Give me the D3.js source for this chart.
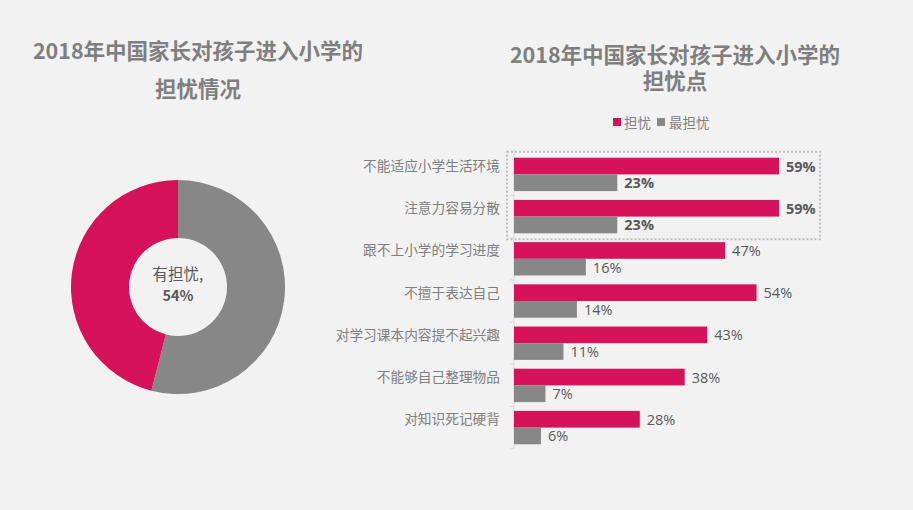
<!DOCTYPE html>
<html><head><meta charset="utf-8">
<script src="https://cdn.jsdelivr.net/npm/d3@7"></script>
<style>
html,body{margin:0;padding:0;background:#f2f2f2;}
svg{display:block;font-family:"Noto Sans CJK SC","Noto Sans",sans-serif;}
</style></head>
<body><svg id="c" width="913" height="510"></svg>
<script>
// ---- data ----
const donutLabels = ["有担忧", "其他"];
const donutValues = [54, 46];
const categories = ["不能适应小学生活环境","注意力容易分散","跟不上小学的学习进度","不擅于表达自己","对学习课本内容提不起兴趣","不能够自己整理物品","对知识死记硬背"];
const seriesNames = ["担忧","最担忧"];
const worryValues = [59, 59, 47, 54, 43, 38, 28];
const mostWorryValues = [23, 23, 16, 14, 11, 7, 6];
const highlightedCategories = ["不能适应小学生活环境","注意力容易分散"];

const RED = "#d6125a", GREY = "#878787", TXT = "#7f7f7f", LBL = "#595959";
const svg = d3.select("#c");
svg.append("rect").attr("width",913).attr("height",510).attr("fill","#f2f2f2");

// ---- titles ----
function title(x, lines, ys){
  lines.forEach((t,i)=>svg.append("text").attr("x",x).attr("y",ys[i])
    .attr("text-anchor","middle").attr("font-size",21.5).attr("font-weight","bold")
    .attr("fill",TXT).text(t));
}
title(198, ["2018年中国家长对孩子进入小学的","担忧情况"], [59, 97]);
title(675, ["2018年中国家长对孩子进入小学的","担忧点"], [63, 89]);

// ---- donut ----
const cx = 178, cy = 287;
const pie = d3.pie().sort(null).startAngle(0).endAngle(2*Math.PI);
const arc = d3.arc().innerRadius(49).outerRadius(107);
const g = svg.append("g").attr("transform",`translate(${cx},${cy})`);
g.selectAll("path").data(pie(donutValues)).join("path")
  .attr("d",arc).attr("fill",(d,i)=>i===0?GREY:RED);
g.append("text").attr("x",0).attr("y",-7).attr("text-anchor","middle")
  .attr("font-size",15.5).attr("fill",LBL).text(donutLabels[0] + ",");
g.append("text").attr("x",0).attr("y",14).attr("text-anchor","middle")
  .attr("font-size",14.5).attr("font-weight","bold").attr("fill",LBL).text(donutValues[0] + "%");

// ---- bars ----
const x0 = 514;
const x = d3.scaleLinear().domain([0,60]).range([x0, x0+269.5]);
const y = d3.scaleBand().domain(categories).range([153.3,448.7]).paddingInner(0.21).paddingOuter(0.105);
const ys = d3.scaleBand().domain(seriesNames).range([0,y.bandwidth()]);

// dotted highlight box
const hb0 = y(highlightedCategories[0]) - 6, hb1 = y(highlightedCategories[highlightedCategories.length-1]) + y.bandwidth() + 6;
svg.append("rect").attr("x",507).attr("y",hb0).attr("width",313).attr("height",hb1-hb0)
  .attr("fill","none").attr("stroke","#bfbfbf").attr("stroke-width",2).attr("stroke-dasharray","2,2");

// axis line & boundary ticks
svg.append("line").attr("x1",x0).attr("x2",x0).attr("y1",y.range()[0]-3).attr("y2",y.range()[1])
  .attr("stroke","#d9d9d9").attr("stroke-width",1);
const bounds = categories.slice(1).map(c=>y(c) - y.step()*y.paddingInner()/2);
bounds.push(y.range()[1]);
svg.selectAll("line.tk").data(bounds).join("line").attr("class","tk")
  .attr("x1",x0-4).attr("x2",x0).attr("y1",d=>d).attr("y2",d=>d).attr("stroke","#d9d9d9");

const rows = categories.map((c,i)=>({c, v:[worryValues[i], mostWorryValues[i]], hi: highlightedCategories.includes(c)}));
const rg = svg.selectAll("g.row").data(rows).join("g").attr("class","row")
  .attr("transform",d=>`translate(0,${y(d.c)})`);
rg.append("text").attr("x",500).attr("y",ys(seriesNames[0])+ys.bandwidth()/2+5)
  .attr("text-anchor","end").attr("font-size",13.7).attr("fill",TXT).text(d=>d.c);
seriesNames.forEach((s,k)=>{
  rg.append("rect").attr("x",x0).attr("y",ys(s)).attr("width",d=>x(d.v[k])-x0).attr("height",ys.bandwidth())
    .attr("fill",k===0?RED:GREY);
  rg.append("text").attr("x",d=>x(d.v[k])+7).attr("y",ys(s)+ys.bandwidth()/2+5.5)
    .attr("font-size",14.5).attr("font-family","'Open Sans','Noto Sans',sans-serif")
    .attr("font-weight",d=>d.hi?"bold":"normal").attr("fill",LBL).text(d=>d.v[k]+"%");
});

// legend
const lg = svg.append("g").attr("transform","translate(613,118)");
lg.append("rect").attr("x",0).attr("y",0).attr("width",8).attr("height",8).attr("fill",RED);
lg.append("text").attr("x",11).attr("y",9.5).attr("font-size",13.5).attr("fill",TXT).text(seriesNames[0]);
lg.append("rect").attr("x",44).attr("y",0).attr("width",8).attr("height",8).attr("fill",GREY);
lg.append("text").attr("x",56).attr("y",9.5).attr("font-size",13.5).attr("fill",TXT).text(seriesNames[1]);
</script></body></html>
